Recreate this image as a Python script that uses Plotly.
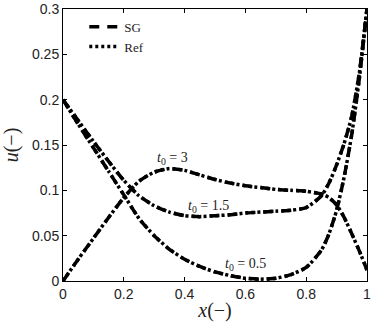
import plotly.graph_objects as go

# positions along the domain
x = [0.0, 0.05, 0.1, 0.15, 0.2, 0.25, 0.3, 0.35, 0.4, 0.45, 0.5, 0.55,
     0.6, 0.65, 0.7, 0.75, 0.8, 0.85, 0.875, 0.9, 0.925, 0.95, 0.975, 1.0]

# profiles (SG and Ref lie on top of each other)
u_t05 = [0.200, 0.173, 0.147, 0.121, 0.095, 0.069, 0.050, 0.035, 0.024, 0.016,
         0.010, 0.006, 0.003, 0.002, 0.003, 0.007, 0.015, 0.034, 0.052, 0.078,
         0.115, 0.162, 0.224, 0.300]
u_t15 = [0.200, 0.177, 0.154, 0.132, 0.111, 0.094, 0.083, 0.076, 0.072, 0.071,
         0.072, 0.073, 0.075, 0.076, 0.077, 0.078, 0.081, 0.094, 0.108, 0.128,
         0.152, 0.182, 0.230, 0.300]
u_t3 = [0.000, 0.024, 0.047, 0.070, 0.092, 0.110, 0.120, 0.124, 0.122, 0.117,
        0.112, 0.108, 0.105, 0.103, 0.101, 0.100, 0.099, 0.096, 0.092, 0.084,
        0.070, 0.052, 0.033, 0.012]

curves = [u_t05, u_t15, u_t3]
labels = ["0.5", "1.5", "3"]
label_pos = [(0.60, 0.018), (0.48, 0.082), (0.36, 0.135)]

x_ticks = [0, 0.2, 0.4, 0.6, 0.8, 1]
x_ticktext = ["0", "0.2", "0.4", "0.6", "0.8", "1"]
y_ticks = [0, 0.05, 0.1, 0.15, 0.2, 0.25, 0.3]
y_ticktext = ["0", "0.05", "0.1", "0.15", "0.2", "0.25", "0.3"]

fig = go.Figure()

for i, u in enumerate(curves):
    fig.add_trace(go.Scatter(x=x, y=u, mode="lines", name="SG",
                             line=dict(color="black", width=3.5, dash="10px,8px",
                                       shape="spline", smoothing=0.6),
                             legendgroup="SG", showlegend=(i == 0)))
for i, u in enumerate(curves):
    fig.add_trace(go.Scatter(x=x, y=u, mode="lines", name="Ref",
                             line=dict(color="black", width=3.5, dash="3px,3px",
                                       shape="spline", smoothing=0.6),
                             legendgroup="Ref", showlegend=(i == 0)))

for lab, (lx, ly) in zip(labels, label_pos):
    fig.add_annotation(x=lx, y=ly, text="<i>t</i><sub>0</sub> = " + lab,
                       showarrow=False,
                       font=dict(family="Liberation Serif", size=14, color="#222"))

axis_style = dict(showline=True, linecolor="black", linewidth=1, mirror="ticks",
                  ticks="inside", ticklen=4, tickcolor="black", showgrid=False,
                  zeroline=False, automargin=False,
                  tickfont=dict(family="Liberation Sans", size=14, color="#222"))

fig.update_xaxes(range=[0, 1], tickvals=x_ticks, ticktext=x_ticktext,
                 title=dict(text="<i>x</i>(−)", standoff=2,
                            font=dict(family="Liberation Serif", size=20, color="#222")),
                 **axis_style)
fig.update_yaxes(range=[0, 0.3], tickvals=y_ticks, ticktext=y_ticktext,
                 title=dict(text="<i>u</i>(−)",
                            font=dict(family="Liberation Serif", size=20, color="#222")),
                 **axis_style)

fig.update_layout(
    width=374, height=328,
    margin=dict(l=63, r=7, t=9, b=47),
    plot_bgcolor="white", paper_bgcolor="white",
    legend=dict(x=0.07, y=0.99, xanchor="left", yanchor="top",
                bgcolor="rgba(0,0,0,0)", tracegroupgap=0,
                font=dict(family="Liberation Serif", size=13, color="#222")),
)

fig.write_html("out.html", config={"displayModeBar": False},
               post_script="document.body.style.margin='0';")
